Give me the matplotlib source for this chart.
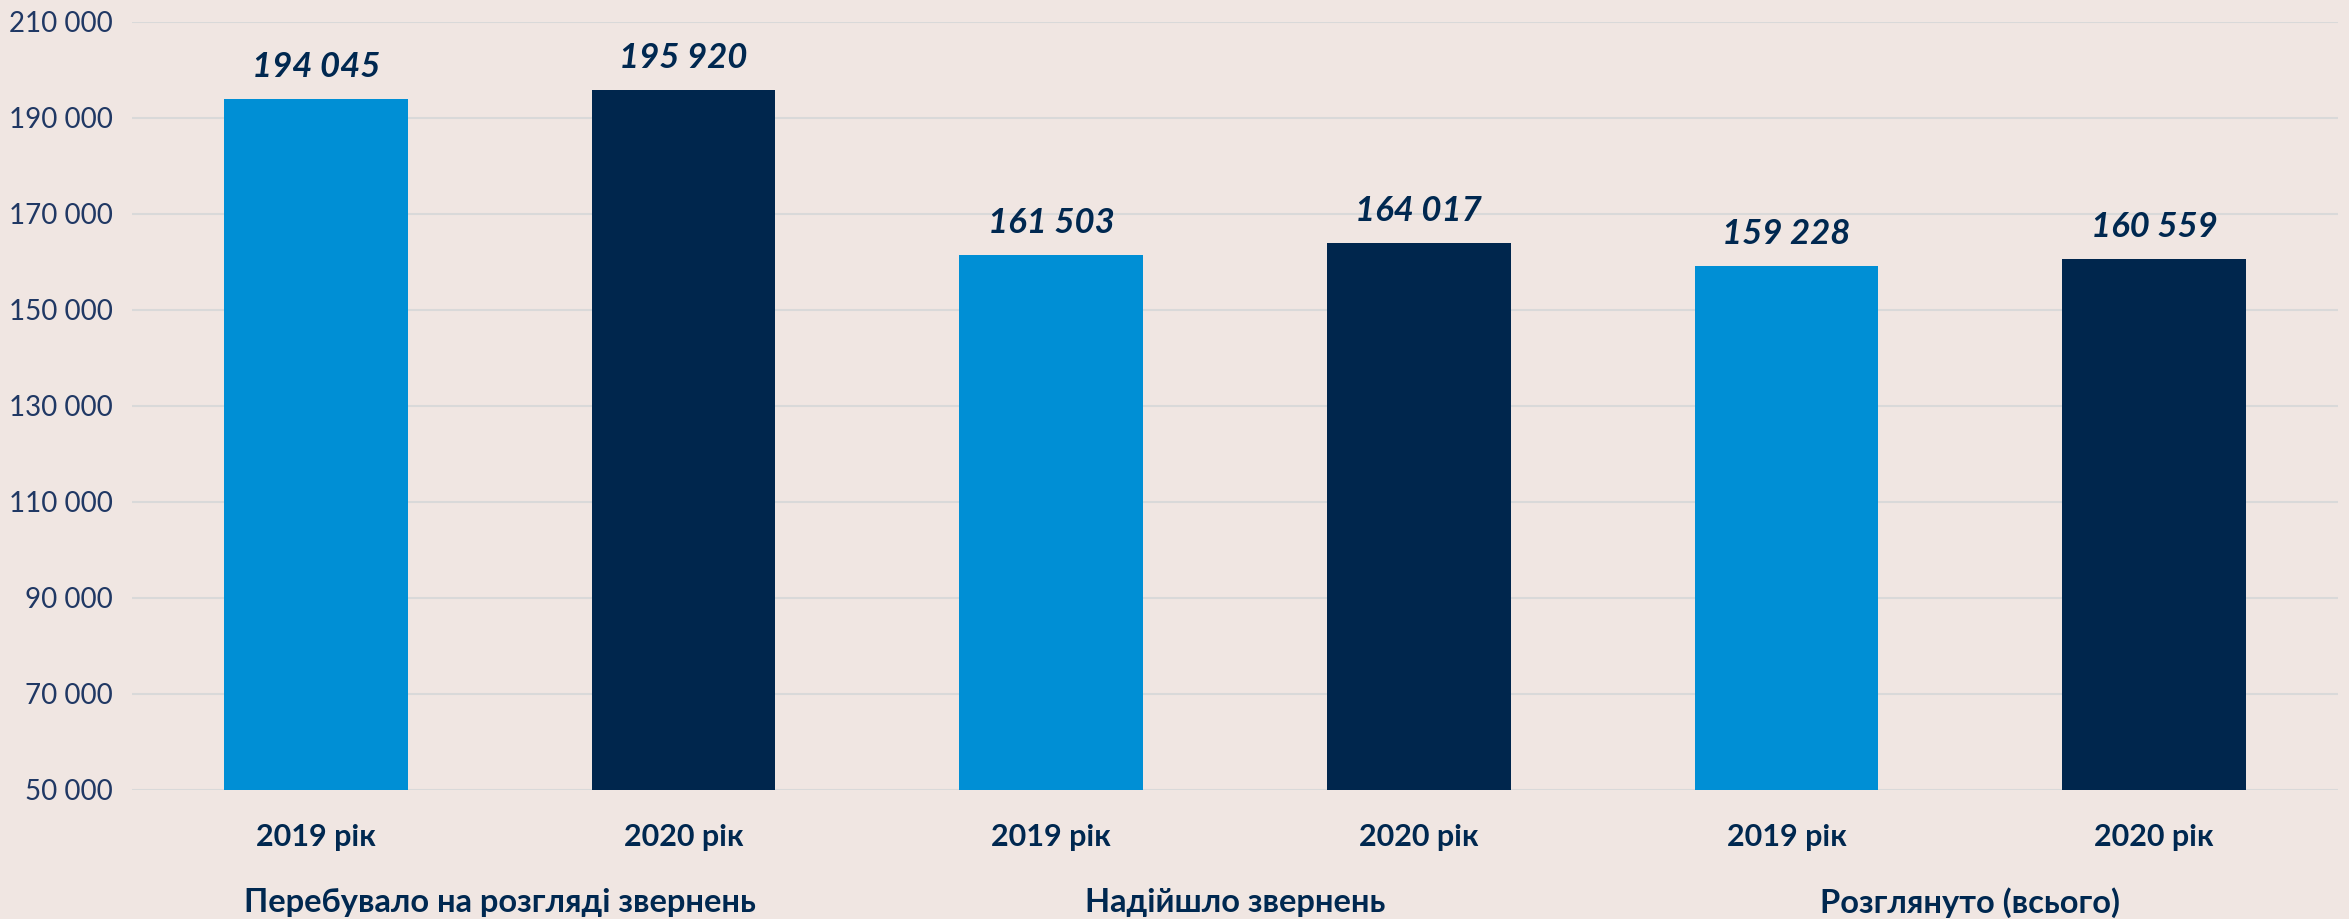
import numpy as np
import matplotlib.pyplot as plt
from matplotlib.ticker import FuncFormatter

groups = ['Перебувало на розгляді звернень', 'Надійшло звернень', 'Розглянуто (всього)']
years = ['2019 рік', '2020 рік']
values_2019 = [194045, 161503, 159228]
values_2020 = [195920, 164017, 160559]

bg = '#F0E6E2'
light_blue = '#008FD5'
navy = '#00264D'
text_navy = '#002850'
fam = ['Lato', 'Open Sans', 'DejaVu Sans']

fig = plt.figure(figsize=(23.49, 9.19), dpi=100, facecolor=bg)
ax = fig.add_axes([132 / 2349, 129 / 919, (2338 - 132) / 2349, (790 - 22) / 919])
ax.set_facecolor(bg)

vals = []
cols = []
labels = []
for a, b in zip(values_2019, values_2020):
    vals += [a, b]
    cols += [light_blue, navy]
    labels += years
x = np.arange(len(vals))

ax.bar(x, vals, width=0.5, color=cols, zorder=3)

for xi, v in zip(x, vals):
    ax.text(xi, v + 3300, f'{v:,}'.replace(',', ' '), ha='center', va='bottom',
            fontsize=25, fontweight='bold', fontstyle='italic', color=text_navy,
            family=fam)

ax.set_xlim(-0.5, len(vals) - 0.5)
ax.set_ylim(50000, 210000)
ax.set_yticks(np.arange(50000, 210001, 20000))
ax.yaxis.set_major_formatter(FuncFormatter(lambda v, p: f'{int(v):,}'.replace(',', ' ')))
ax.grid(axis='y', color='#D9D9D9', linewidth=1.5, zorder=0)
ax.set_axisbelow(True)
for s in ax.spines.values():
    s.set_visible(False)
ax.tick_params(axis='both', length=0)
ax.tick_params(axis='y', pad=14)
for t in ax.get_yticklabels():
    t.set_family(fam)
    t.set_fontsize(20)
    t.set_color('#203864')

ax.set_xticks(x)
ax.set_xticklabels(labels)
ax.tick_params(axis='x', pad=24)
for t in ax.get_xticklabels():
    t.set_family(fam)
    t.set_fontsize(22)
    t.set_fontweight('bold')
    t.set_color(text_navy)

for i, g in enumerate(groups):
    ax.text(2 * i + 0.5, -0.146, g, transform=ax.get_xaxis_transform(),
            ha='center', va='center', fontsize=23.5, fontweight='bold',
            color=text_navy, family=fam)

fig.savefig('out.png', dpi=100, facecolor=bg)
